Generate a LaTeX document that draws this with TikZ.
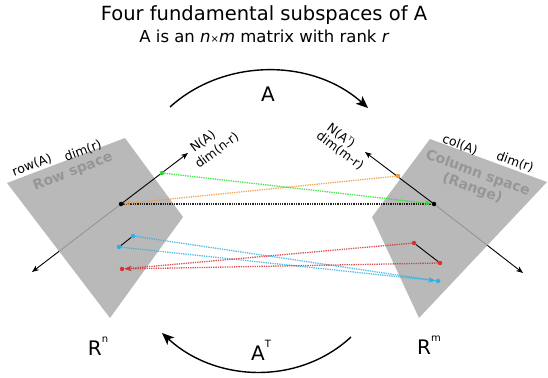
\documentclass[tikz,border=0pt]{standalone}
\usepackage{fontspec}
\setmainfont{DejaVu Sans}
\usetikzlibrary{arrows.meta}
\definecolor{planegray}{RGB}{174,174,174}
\definecolor{labgray}{RGB}{150,150,150}
\definecolor{mgreen}{RGB}{40,220,40}
\definecolor{morange}{RGB}{240,150,60}
\definecolor{mcyan}{RGB}{50,175,225}
\definecolor{mred}{RGB}{215,50,50}
\begin{document}
\begin{tikzpicture}[x=1pt,y=-1pt,
  plane/.style={fill=planegray, fill opacity=0.86, draw=none},
  axisarrow/.style={line width=0.9pt, -{Stealth[length=7pt,width=5.5pt]}},
  seg/.style={line width=0.9pt},
  maparrow/.style={line width=1.3pt, densely dotted, opacity=0.85},
  maptip/.style={-{Stealth[length=7pt,width=5pt]}},
  dot/.style={circle, fill=#1, inner sep=0pt, minimum size=4.5pt},
  lab/.style={font=\fontsize{12.5}{14}\selectfont},
  planelab/.style={font=\fontsize{14}{16}\selectfont\bfseries, text=labgray, align=center},
  big/.style={font=\fontsize{20}{24}\selectfont, anchor=base},
  bendarrow/.style={line width=1.4pt, -{Stealth[length=12pt,width=10pt,inset=3pt]}}
]
\useasboundingbox (0,0) rectangle (548,377);

% titles
\node[font=\fontsize{19.5}{22}\selectfont, anchor=base] (title) at (264,21) {Four fundamental subspaces of A};
\node[font=\fontsize{16.5}{19}\selectfont, anchor=base] (subtitle) at (264,42.5) {A is an {\itshape n}{\fontsize{10}{10}\selectfont ×}{\itshape m} matrix with rank {\itshape r}};

% origins
\coordinate (O1) at (121,204);
\coordinate (O2) at (434,204);
\coordinate (RA) at (32,272);
\coordinate (CA) at (523,273);
\coordinate (NA) at (188,153);
\coordinate (NAT) at (365,152);

% row / column space lines (under the planes)
\draw[axisarrow] (O1) -- (RA);
\draw[axisarrow] (O2) -- (CA);

% planes
\fill[plane] (7,183) -- (125,138) -- (183,217) -- (110,318) -- cycle;
\fill[plane] (372,217) -- (430,139) -- (547,182) -- (419,318) -- cycle;

% null space arrows
\draw[axisarrow] (O1) -- (NA);
\draw[axisarrow] (O2) -- (NAT);

% points
\node[dot=black] (o1) at (O1) {};
\node[dot=black] (o2) at (O2) {};
\node[dot=mgreen] (g1) at (162,173) {};
\node[dot=morange] (or) at (398,176) {};
\node[dot=mcyan] (c1) at (133,236) {};
\node[dot=mcyan] (c2) at (119,247) {};
\node[dot=mcyan] (c3) at (438,281) {};
\node[dot=mred] (r1) at (414,243) {};
\node[dot=mred] (r2) at (440,263) {};
\node[dot=mred] (r3) at (122,269) {};

\draw[seg] (c1) -- (c2);
\draw[seg] (r1) -- (r2);

% mappings
\draw[maparrow, black] (o1) -- (o2);
\draw[maparrow, mgreen, maptip] (g1) -- (o2);
\draw[maparrow, morange, maptip] (or) -- (o1);
\draw[maparrow, mcyan, maptip] (c1) -- (c3);
\draw[maparrow, mcyan, maptip] (c2) -- (c3);
\draw[maparrow, mred, maptip] (r1) -- (r3);
\draw[maparrow, mred, maptip] (r2) -- (r3);

% labels
\node[lab, rotate=21] (rowA) at (32,165) {row(A)};
\node[lab, rotate=21] (dimr1) at (83,151) {dim(r)};
\node[planelab, rotate=21] (rowsp) at (73,172) {Row space};
\node[lab, rotate=-20] (colA) at (460,145) {col(A)};
\node[lab, rotate=-20] (dimr2) at (515,162) {dim(r)};
\node[planelab, rotate=-20] (colsp) at (475,181) {Column space\\(Range)};
\node[lab, rotate=37] (nA) at (203,141.5) {N(A)};
\node[lab, rotate=37] (dimnr) at (217,150.5) {dim(n-r)};
\node[lab, rotate=-37] (nAT) at (341,136) {N(A\raisebox{0.8ex}{\fontsize{6}{6}\selectfont T})};
\node[lab, rotate=-37] (dimmr) at (340,151) {dim(m-r)};

% spaces
\node[big] (Rn) at (98,355) {R\raisebox{1.1ex}{\fontsize{10}{10}\selectfont n}};
\node[big] (Rm) at (429,354) {R\raisebox{1.1ex}{\fontsize{10}{10}\selectfont m}};

% maps A and A^T
\coordinate (a1) at (170,107);
\coordinate (a2) at (368,108);
\coordinate (b1) at (351,337);
\coordinate (b2) at (162,333);
\draw[bendarrow] (a1) .. controls (224,58) and (312,58) .. (a2);
\draw[bendarrow] (b1) .. controls (298,386) and (215,382) .. (b2);
\node[big] (Alab) at (268,101.5) {A};
\node[big] (ATlab) at (261,360) {A\raisebox{1.1ex}{\fontsize{10}{10}\selectfont T}};
\end{tikzpicture}
\end{document}
